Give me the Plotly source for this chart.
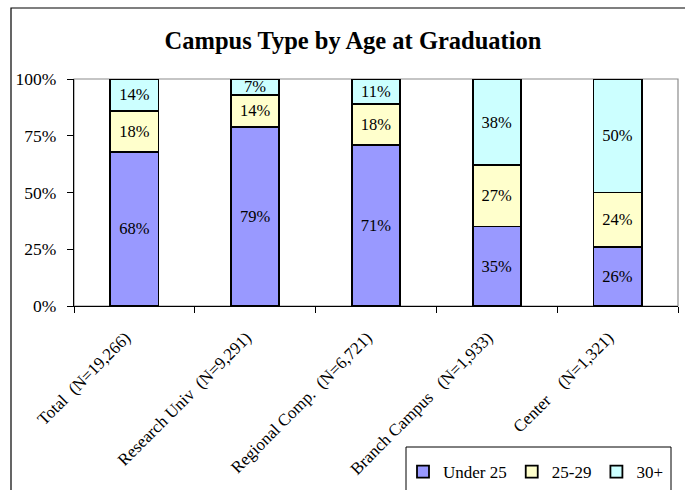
import plotly.graph_objects as go

categories = [
    "Total\u00a0\u00a0(N=19,266)",
    "Research Univ\u00a0\u00a0(N=9,291)",
    "Regional Comp.\u00a0\u00a0(N=6,721)",
    "Branch Campus\u00a0\u00a0\u00a0(N=1,933)",
    "Center\u00a0\u00a0\u00a0\u00a0(N=1,321)",
]
under25 = [68, 79, 71, 35, 26]
age25_29 = [18, 14, 18, 27, 24]
age30plus = [14, 7, 11, 38, 50]
series_names = ["Under 25", "25-29", "30+"]
series_colors = ["#9999FF", "#FFFFCC", "#CCFFFF"]
y_ticks = [0, 25, 50, 75, 100]
y_ticklabels = ["0%", "25%", "50%", "75%", "100%"]

FONT = "Times New Roman, Liberation Serif, serif"

W, H = 685, 490
L, R, T, B = 74, 685 - 678, 79, 490 - 306
pw, ph = W - L - R, H - T - B

def px(x):
    return (x - L) / pw

def py(y):
    return (H - B - y) / ph

fig = go.Figure()
for name, vals, col in zip(series_names, [under25, age25_29, age30plus], series_colors):
    fig.add_trace(go.Bar(
        x=categories, y=vals, name=name,
        marker=dict(color=col, line=dict(color="black", width=1.8)),
        text=[f"{v}%" for v in vals], textposition="inside",
        insidetextanchor="middle", textangle=0,
        textfont=dict(family=FONT, size=16.5, color="black"),
        cliponaxis=False, hoverinfo="skip",
    ))

shapes = [
    # plot area border (gray)
    dict(type="rect", xref="paper", yref="paper", x0=0, x1=1, y0=0, y1=1,
         line=dict(color="#8c8c8c", width=1.2), layer="below"),
    # outer chart border
    dict(type="rect", xref="paper", yref="paper", x0=px(11), x1=px(692),
         y0=py(8), y1=py(540), line=dict(color="black", width=1.2), layer="below"),
    # legend box
    dict(type="rect", xref="paper", yref="paper", x0=px(406), x1=px(671),
         y0=py(447), y1=py(540), line=dict(color="black", width=1), layer="below"),
]

fig.update_layout(
    width=W, height=H,
    margin=dict(l=L, r=R, t=T, b=B, autoexpand=False),
    paper_bgcolor="white", plot_bgcolor="white",
    barmode="stack", bargap=0.6,
    uniformtext=dict(minsize=16.5, mode="show"),
    font=dict(family=FONT, size=17, color="black"),
    title=dict(text="<b>Campus Type by Age at Graduation</b>",
               font=dict(family=FONT, size=24.5, color="black"),
               x=353 / W, xref="container", xanchor="center",
               y=1 - 40 / H, yref="container", yanchor="middle"),
    showlegend=True,
    legend=dict(orientation="h", x=px(403), y=py(472), xanchor="left", yanchor="middle",
                bgcolor="rgba(0,0,0,0)", borderwidth=0,
                font=dict(family=FONT, size=17, color="black"),
                traceorder="normal"),
    shapes=shapes,
)
fig.update_xaxes(
    type="category", showline=True, linecolor="black", linewidth=1.2,
    ticks="outside", tickson="boundaries", ticklen=6, tickcolor="black",
    tickangle=-45, tickfont=dict(family=FONT, size=17, color="black"),
    ticklabelstandoff=14, ticklabelshift=-9, automargin=False,
    showgrid=False, zeroline=False,
)
fig.update_yaxes(
    range=[0, 100], tickvals=y_ticks, ticktext=y_ticklabels,
    showline=True, linecolor="black", linewidth=1.2,
    ticks="outside", ticklen=6, tickcolor="black",
    tickfont=dict(family=FONT, size=17.5, color="black"),
    ticklabelstandoff=7, automargin=False,
    showgrid=False, zeroline=False,
)

fig.write_html("out.html", config={"displayModeBar": False},
               post_script="document.body.style.margin='0';")
